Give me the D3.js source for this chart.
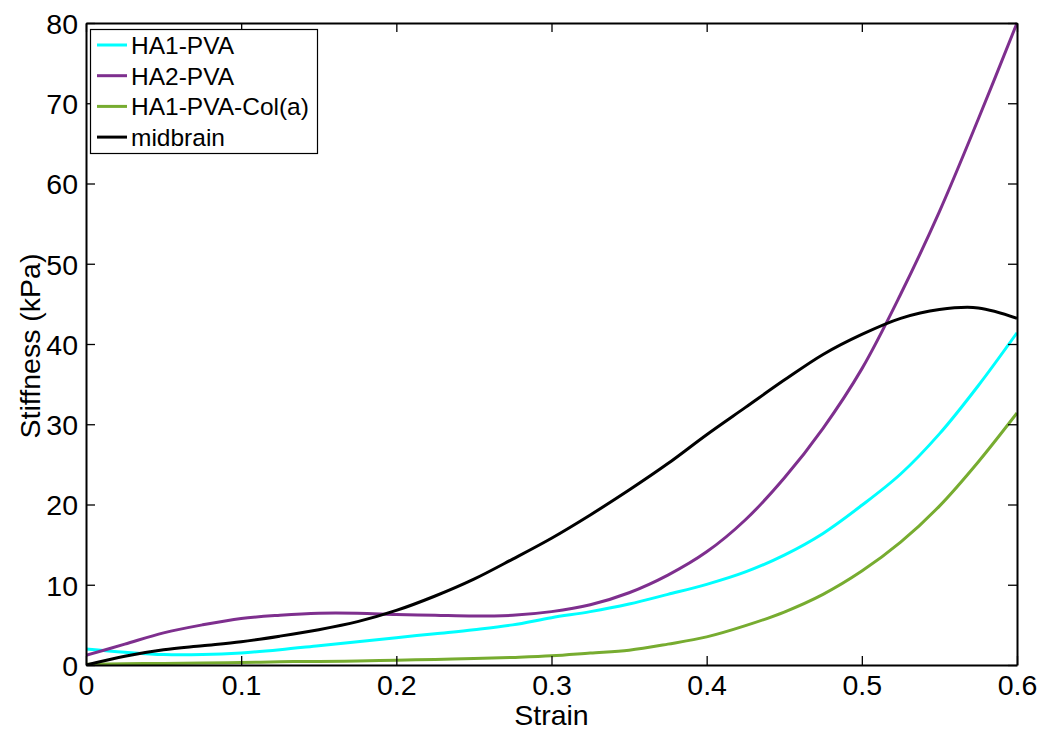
<!DOCTYPE html>
<html>
<head>
<script src="https://d3js.org/d3.v7.min.js"></script>
<style>
  body { margin: 0; background: #fff; }
  text { font-family: "Liberation Sans", Arial, sans-serif; }
</style>
</head>
<body>
<div class="chart"></div>
<script>
// strain grid and stiffness values (kPa)
var strain = [0, 0.025, 0.05, 0.075, 0.1, 0.125, 0.15, 0.175, 0.2, 0.225, 0.25, 0.275,
              0.3, 0.325, 0.35, 0.375, 0.4, 0.425, 0.45, 0.475, 0.5, 0.525, 0.55, 0.575, 0.6];
var ha1pva = [2.0, 1.6, 1.3, 1.3, 1.5, 1.9, 2.4, 2.9, 3.4, 3.9, 4.4, 5.0,
              5.9, 6.65, 7.6, 8.8, 10.05, 11.6, 13.7, 16.4, 19.9, 23.8, 28.8, 34.8, 41.4];
var ha2pva = [1.2, 2.6, 4.0, 5.0, 5.8, 6.2, 6.45, 6.45, 6.3, 6.2, 6.1, 6.2,
              6.65, 7.5, 9.0, 11.2, 14.1, 18.1, 23.3, 29.5, 36.9, 46.2, 56.5, 68.0, 80.0];
var ha1pvacol = [0.1, 0.15, 0.2, 0.25, 0.3, 0.4, 0.45, 0.5, 0.6, 0.7, 0.8, 0.95,
                 1.15, 1.5, 1.85, 2.6, 3.5, 4.9, 6.6, 8.8, 11.7, 15.3, 19.8, 25.3, 31.4];
var midbrain = [0, 1.1, 1.9, 2.4, 2.9, 3.6, 4.4, 5.4, 6.8, 8.6, 10.7, 13.2,
                15.8, 18.7, 21.8, 25.1, 28.7, 32.1, 35.5, 38.7, 41.2, 43.2, 44.3, 44.5, 43.2];
var names = ["HA1-PVA", "HA2-PVA", "HA1-PVA-Col(a)", "midbrain"];
var colors = ["#00FFFF", "#7E2F8E", "#77AC30", "#000000"];
var xTicks = [0, 0.1, 0.2, 0.3, 0.4, 0.5, 0.6];
var yTicks = [0, 10, 20, 30, 40, 50, 60, 70, 80];

var w = 1043, h = 731;
var mL = 86, mR = 1017, mT = 23, mB = 665;

var svg = d3.select("div.chart").append("svg")
    .attr("width", w).attr("height", h);

var x = d3.scaleLinear().domain([0, 0.6]).range([mL, mR]);
var y = d3.scaleLinear().domain([0, 80]).range([mB, mT]);

// curves
var series = [ha1pva, ha2pva, ha1pvacol, midbrain];
var line = d3.line()
    .x(function(d, i) { return x(strain[i]); })
    .y(function(d) { return y(d); })
    .curve(d3.curveCatmullRom.alpha(0.5));

svg.append("defs").append("clipPath").attr("id", "clip")
  .append("rect").attr("x", mL).attr("y", mT - 2)
  .attr("width", mR - mL).attr("height", mB - mT + 2);

svg.append("g").attr("clip-path", "url(#clip)")
  .selectAll("path").data(series).enter().append("path")
    .attr("fill", "none")
    .attr("stroke", function(d, i) { return colors[i]; })
    .attr("stroke-width", 3)
    .attr("d", line);

// axes, ticks pointing inward, mirrored on top and right
var tl = 9;
var gx = svg.append("g").attr("transform", "translate(0," + mB + ")")
    .call(d3.axisBottom(x).tickValues(xTicks).tickSizeInner(-tl).tickSizeOuter(0)
          .tickPadding(10).tickFormat(d3.format("")));
var gxt = svg.append("g").attr("transform", "translate(0," + mT + ")")
    .call(d3.axisTop(x).tickValues(xTicks).tickSizeInner(-tl).tickSizeOuter(0)
          .tickFormat(""));
var gy = svg.append("g").attr("transform", "translate(" + mL + ",0)")
    .call(d3.axisLeft(y).tickValues(yTicks).tickSizeInner(-tl).tickSizeOuter(0)
          .tickPadding(8));
var gyr = svg.append("g").attr("transform", "translate(" + mR + ",0)")
    .call(d3.axisRight(y).tickValues(yTicks).tickSizeInner(-tl).tickSizeOuter(0)
          .tickFormat(""));

[gx, gxt, gy, gyr].forEach(function(g) {
  g.selectAll(".domain").attr("stroke", "#000").attr("stroke-width", 2);
  g.selectAll(".tick line").attr("stroke", "#000").attr("stroke-width", 1.3);
  g.selectAll(".tick text").attr("fill", "#000")
    .style("font-family", "'Liberation Sans', Arial, sans-serif")
    .style("font-size", "28.5px");
});
gx.selectAll(".tick text").attr("dy", "0.71em");
gy.selectAll(".tick text").attr("dy", "0.36em");

// axis titles
svg.append("text").attr("x", (mL + mR) / 2).attr("y", 725)
  .attr("text-anchor", "middle").style("font-size", "28.5px").text("Strain");
svg.append("text")
  .attr("transform", "translate(40,346) rotate(-90)")
  .attr("text-anchor", "middle").style("font-size", "28.5px").text("Stiffness (kPa)");

// legend
var lg = svg.append("g");
lg.append("rect").attr("x", 90.5).attr("y", 29.5).attr("width", 227).attr("height", 124)
  .attr("fill", "#fff").attr("stroke", "#000").attr("stroke-width", 1.2);
var items = lg.selectAll("g.item").data(names).enter().append("g")
  .attr("transform", function(d, i) { return "translate(0," + (45 + i * 30.7) + ")"; });
items.append("line").attr("x1", 97).attr("x2", 127).attr("y1", 0).attr("y2", 0)
  .attr("stroke", function(d, i) { return colors[i]; }).attr("stroke-width", 3);
items.append("text").attr("x", 131).attr("y", 0).attr("dy", "0.36em")
  .style("font-size", "24.5px").text(function(d) { return d; });
</script>
</body>
</html>
